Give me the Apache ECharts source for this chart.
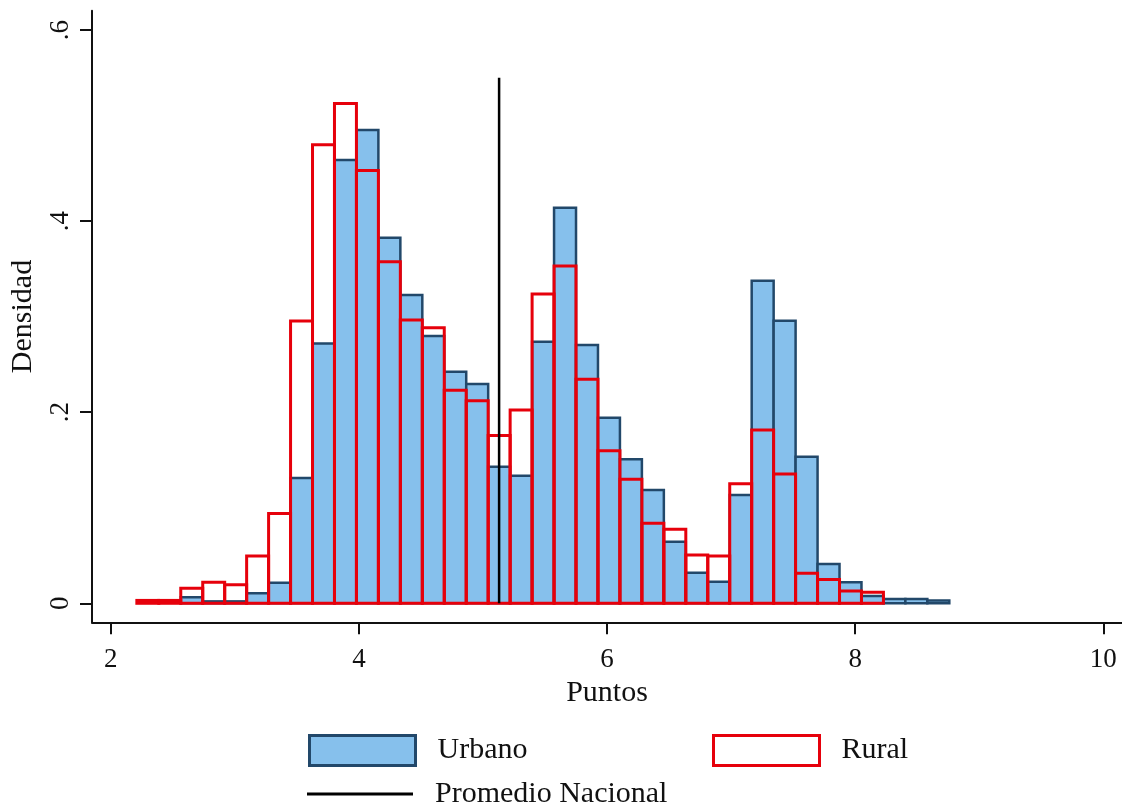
<!DOCTYPE html>
<html>
<head>
<meta charset="utf-8">
<script src="https://cdn.jsdelivr.net/npm/echarts@6/dist/echarts.min.js"></script>
<style>
  html, body { margin: 0; padding: 0; background: #fff; }
  #chart { width: 1122px; height: 808px; }
</style>
</head>
<body>
<div id="chart"></div>
<script>
// histogram bins (same bins for both groups)
const binStart = 2.21;
const binWidth = 0.177;

// density per bin
const urbano = [0, 0, 0.0063, 0.002, 0.002, 0.0105, 0.0216, 0.131, 0.272, 0.464,
  0.4953, 0.3826, 0.3227, 0.2798, 0.2424, 0.2295, 0.143, 0.1335, 0.2738, 0.414,
  0.2703, 0.1942, 0.1507, 0.1186, 0.0645, 0.032, 0.0226, 0.1133, 0.3376, 0.2958,
  0.1534, 0.0411, 0.022, 0.0076, 0.0045, 0.0045, 0.003];
const rural = [0.003, 0.003, 0.0157, 0.022, 0.0195, 0.0495, 0.094, 0.2955, 0.48, 0.523,
  0.453, 0.3575, 0.2965, 0.2885, 0.223, 0.212, 0.1755, 0.2023, 0.3237, 0.353,
  0.2345, 0.1597, 0.1298, 0.0837, 0.0774, 0.0505, 0.0495, 0.125, 0.1814, 0.1353,
  0.0314, 0.025, 0.0129, 0.0115, 0, 0, 0];

const promedio = 5.13;
const promedioTop = 0.55;

const xTicks = [2, 4, 6, 8, 10];
const yTicks = [0, 0.2, 0.4, 0.6];

const fontFamily = "'Liberation Serif', 'DejaVu Serif', serif";
const textColor = "#111";

const toBins = (vals) =>
  vals
    .map((v, i) => [binStart + i * binWidth, binStart + (i + 1) * binWidth, v])
    .filter((d) => d[2] > 0);

const barRenderer = (style) => (params, api) => {
  const p0 = api.coord([api.value(0), api.value(2)]);
  const p1 = api.coord([api.value(1), 0]);
  return {
    type: "rect",
    shape: { x: p0[0], y: p0[1], width: p1[0] - p0[0], height: p1[1] - p0[1] },
    style: style,
  };
};

const urbanStyle = { fill: "#86c0ec", stroke: "#22486a", lineWidth: 2.5 };
const ruralStyle = { fill: "none", stroke: "#e6000b", lineWidth: 3 };

const legendBase = {
  orient: "horizontal",
  padding: 0,
  itemWidth: 106,
  itemHeight: 30,
  selectedMode: false,
  textStyle: {
    fontFamily: fontFamily,
    fontSize: 30,
    color: textColor,
    padding: [0, 0, 0, 17],
  },
};

const chart = echarts.init(document.getElementById("chart"));

const option = {
  animation: false,
  backgroundColor: "#fff",
  grid: { left: 91.7, right: 0, top: 10.7, bottom: 185.7, containLabel: false },
  legend: [
    Object.assign({}, legendBase, {
      left: 308,
      top: 734,
      data: [{ name: "Urbano", icon: "rect",
        itemStyle: { color: "#86c0ec", borderColor: "#22486a", borderWidth: 3 } }],
    }),
    Object.assign({}, legendBase, {
      left: 712,
      top: 734,
      data: [{ name: "Rural", icon: "rect",
        itemStyle: { color: "#fff", borderColor: "#e6000b", borderWidth: 3 } }],
    }),
    Object.assign({}, legendBase, {
      left: 307,
      top: 779,
      itemHeight: 3,
      data: [{ name: "Promedio Nacional", icon: "rect",
        itemStyle: { color: "#000", borderWidth: 0 } }],
    }),
  ],
  xAxis: {
    type: "value",
    min: 1.8485,
    max: 10.151,
    name: "Puntos",
    nameLocation: "middle",
    nameGap: 52,
    nameTextStyle: { fontFamily: fontFamily, fontSize: 30, color: textColor },
    axisLine: { show: true, onZero: false, lineStyle: { color: "#111", width: 2 } },
    axisTick: { show: true, customValues: xTicks, length: 12, lineStyle: { color: "#111", width: 2 } },
    axisLabel: {
      customValues: xTicks,
      margin: 24,
      fontFamily: fontFamily,
      fontSize: 27,
      color: textColor,
    },
    splitLine: { show: false },
  },
  yAxis: {
    type: "value",
    min: -0.0199,
    max: 0.6202,
    name: "Densidad",
    nameLocation: "middle",
    nameRotate: 90,
    nameGap: 54,
    nameTextStyle: { fontFamily: fontFamily, fontSize: 30, color: textColor },
    axisLine: { show: true, onZero: false, lineStyle: { color: "#111", width: 2 } },
    axisTick: { show: true, customValues: yTicks, length: 12, lineStyle: { color: "#111", width: 2 } },
    axisLabel: {
      customValues: yTicks,
      rotate: 90,
      margin: 18,
      fontFamily: fontFamily,
      fontSize: 27,
      color: textColor,
      formatter: (v) => (v === 0 ? "0" : String(v).replace("0.", ".")),
    },
    splitLine: { show: false },
  },
  series: [
    {
      name: "Urbano",
      type: "custom",
      renderItem: barRenderer(urbanStyle),
      encode: { x: [0, 1], y: 2 },
      data: toBins(urbano),
      z: 2,
    },
    {
      name: "Rural",
      type: "custom",
      renderItem: barRenderer(ruralStyle),
      encode: { x: [0, 1], y: 2 },
      data: toBins(rural),
      z: 3,
    },
    {
      name: "Promedio Nacional",
      type: "line",
      symbol: "none",
      data: [[promedio, 0], [promedio, promedioTop]],
      lineStyle: { color: "#000", width: 2.5 },
      itemStyle: { color: "#000" },
      z: 4,
    },
  ],
};

option && chart.setOption(option);
</script>
</body>
</html>
